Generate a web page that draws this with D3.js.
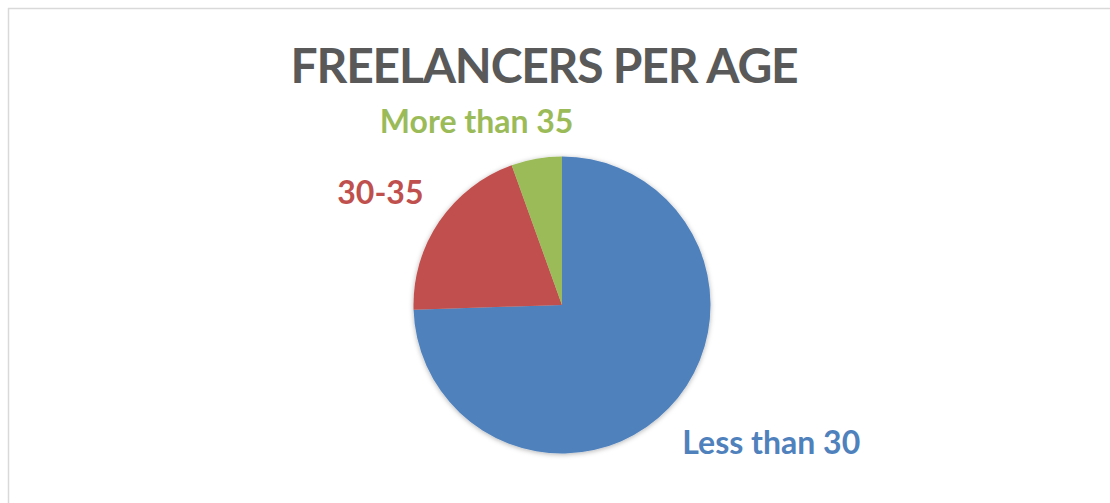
<!DOCTYPE html>
<html>
<head>
<meta charset="utf-8">
<script src="https://cdn.jsdelivr.net/npm/d3@7"></script>
<style>
  html, body { margin: 0; padding: 0; background: #fff; }
  svg { display: block; }
  text { font-family: Lato, "Open Sans", sans-serif; font-weight: 700; }
</style>
</head>
<body>
<svg id="chart"></svg>
<script>
const categories = ["Less than 30", "30-35", "More than 35"];
const values = [74.5, 20, 5.5];
const colors = ["#4f81bd", "#c0504d", "#9bbb59"];
const title = "FREELANCERS PER AGE";

const width = 1110, height = 503;
const cx = 562, cy = 305, radius = 148.5;

const svg = d3.select("#chart")
  .attr("width", width)
  .attr("height", height);

// soft shadow under the pie
const defs = svg.append("defs");
defs.append("filter")
  .attr("id", "shadow")
  .attr("x", "-20%").attr("y", "-20%")
  .attr("width", "140%").attr("height", "140%")
  .append("feDropShadow")
  .attr("dx", 0).attr("dy", 1)
  .attr("stdDeviation", 2.5)
  .attr("flood-color", "#000")
  .attr("flood-opacity", 0.3);

// chart frame (cropped at right and bottom)
svg.append("rect")
  .attr("x", 8.5).attr("y", 8.5)
  .attr("width", width + 20).attr("height", height + 20)
  .attr("fill", "none")
  .attr("stroke", "#d9d9d9")
  .attr("stroke-width", 1.5);

svg.append("text")
  .attr("x", 544)
  .attr("y", 83)
  .attr("text-anchor", "middle")
  .attr("fill", "#595959")
  .style("font-size", "48px")
  .style("letter-spacing", "-1.2px")
  .text(title);

const data = categories.map((c, i) => ({ name: c, value: values[i], color: colors[i] }));

const pie = d3.pie().sort(null).value(d => d.value);
const arcs = pie(data);
const arc = d3.arc().innerRadius(0).outerRadius(radius);

const g = svg.append("g").attr("transform", `translate(${cx},${cy})`);

g.append("g")
  .attr("filter", "url(#shadow)")
  .selectAll("path")
  .data(arcs)
  .join("path")
  .attr("d", arc)
  .attr("fill", d => d.data.color);

// outside-end labels: box corner slides along the mid-angle ray
const labelR = radius + 19;
const k = 1.7;
const clamp = v => Math.max(0, Math.min(1, v));

const labels = g.selectAll("text.lbl")
  .data(arcs)
  .join("text")
  .attr("class", "lbl")
  .attr("fill", d => d.data.color)
  .style("font-size", "32px")
  .text(d => d.data.name);

labels.each(function(d) {
  const a = (d.startAngle + d.endAngle) / 2;
  const px = labelR * Math.sin(a), py = -labelR * Math.cos(a);
  const b = this.getBBox();
  const fx = clamp(0.5 - Math.sin(a) * k);
  const fy = clamp(0.5 + Math.cos(a) * k);
  const left = px - fx * b.width;
  const top = py - fy * b.height;
  d3.select(this)
    .attr("x", left - b.x)
    .attr("y", top - b.y);
});
</script>
</body>
</html>
